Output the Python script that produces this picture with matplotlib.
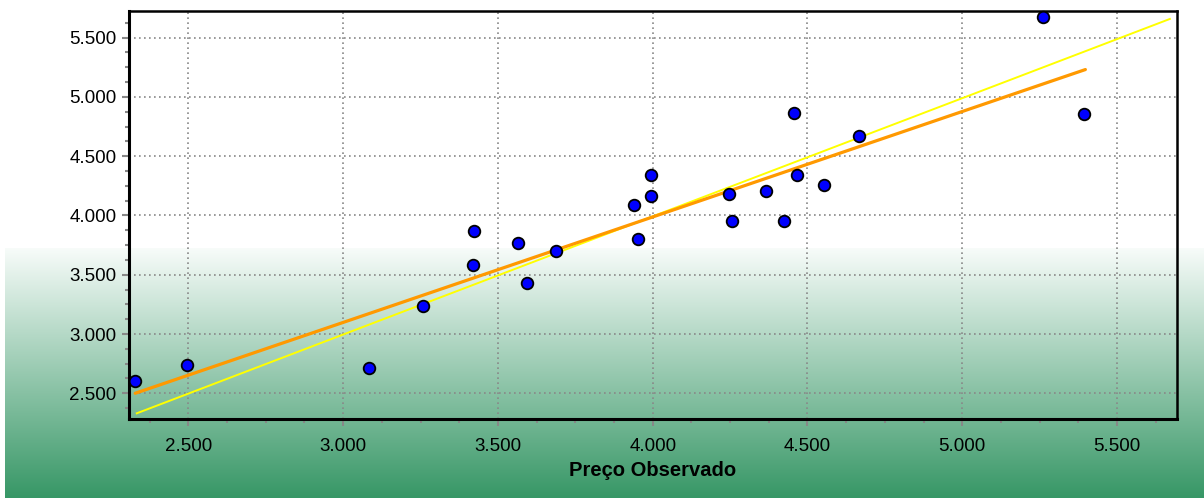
import numpy as np
import matplotlib
matplotlib.use("Agg")
import matplotlib.pyplot as plt
from matplotlib.ticker import MultipleLocator, FuncFormatter

plt.rcParams['font.family'] = ['Liberation Sans', 'DejaVu Sans']

# observed vs estimated prices
observado = [2328, 2496, 3084, 3259, 3420, 3423, 3566, 3595, 3688, 3941, 3952,
             3993, 3993, 4245, 4256, 4366, 4423, 4458, 4466, 4555, 4665, 5260, 5393]
estimado = [2604, 2739, 2713, 3236, 3582, 3868, 3767, 3430, 3700, 4087, 3803,
            4343, 4163, 4178, 3952, 4205, 3952, 4866, 4343, 4253, 4672, 5675, 4852]

# regression line (orange) and identity line (yellow) end points
reg_x = [2328, 5398]
reg_y = [2500, 5231]
ident_x = [2333, 5671]
ident_y = [2331, 5658]

xticks = [2500, 3000, 3500, 4000, 4500, 5000, 5500]
yticks = [2500, 3000, 3500, 4000, 4500, 5000, 5500]

fig = plt.figure(figsize=(12.04, 4.98), dpi=100)

# gradient background in the lower half
bg = fig.add_axes([5 / 1204, 0, 1 - 5 / 1204, 250 / 498], zorder=-10)
top = np.array([248, 252, 250]) / 255
bot = np.array([55, 151, 102]) / 255
t = np.linspace(0, 1, 256)[:, None]
grad = top[None, :] * (1 - t) + bot[None, :] * t
bg.imshow(grad[:, None, :], aspect='auto', extent=[0, 1, 0, 1])
bg.set_axis_off()

ax = fig.add_axes([129 / 1204, 79 / 498, 1048 / 1204, 408 / 498])
ax.set_facecolor('none')

ax.plot(ident_x, ident_y, color='#ffff00', lw=1.4, zorder=3)
ax.plot(reg_x, reg_y, color='#ff9900', lw=2.3, zorder=3, solid_capstyle='round')
ax.scatter(observado, estimado, s=70, c='#0000ff', edgecolors='black',
           linewidths=1.3, zorder=4, clip_on=False)

ax.set_xlim(2308, 5694)
ax.set_ylim(2283, 5725)
ax.set_xticks(xticks)
ax.set_yticks(yticks)
ax.xaxis.set_minor_locator(MultipleLocator(125))
ax.yaxis.set_minor_locator(MultipleLocator(125))
fmt = FuncFormatter(lambda v, p: f"{v:,.0f}".replace(",", "."))
ax.xaxis.set_major_formatter(fmt)
ax.yaxis.set_major_formatter(fmt)

ax.tick_params(which='major', length=5, width=1.5, color='#888888',
               labelsize=13.5, pad=4)
ax.tick_params(axis='x', which='major', pad=9)
ax.tick_params(which='minor', length=3, width=1.5, color='#888888')

ax.grid(True, which='major', color='#888888', linestyle=(0, (1, 2)), lw=1.2)
ax.set_axisbelow(True)
for s in ax.spines.values():
    s.set_linewidth(1.8)
    s.set_color('black')
ax.spines['bottom'].set_linewidth(2.2)
ax.spines['left'].set_linewidth(2.2)

ax.set_xlabel('Preço Observado', fontsize=14.5, fontweight='bold', labelpad=4)

fig.savefig('out.png', dpi=100)
